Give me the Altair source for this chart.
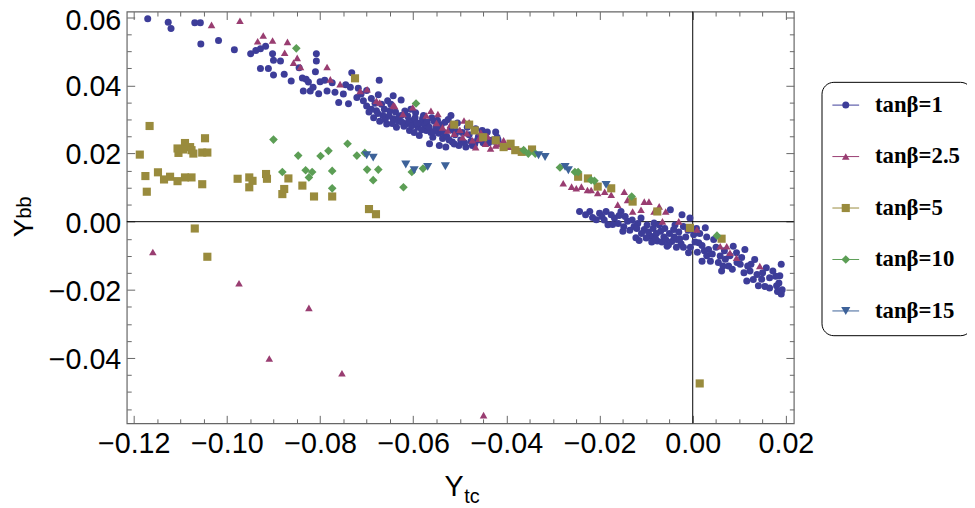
import altair as alt
import pandas as pd

# ---------------- data ----------------
series_names = ["tanβ=1", "tanβ=2.5", "tanβ=5", "tanβ=10", "tanβ=15"]

# tanβ=1 (circles)
s1_x = [-0.1170, -0.1126, -0.1120, -0.1069, -0.1057, -0.1056, -0.1018, -0.0984, -0.0949, -0.0938,
        -0.0928, -0.0917, -0.0928, -0.0911, -0.0902, -0.0900, -0.0885, -0.0900, -0.0877, -0.0862,
        -0.0845, -0.0838, -0.0830, -0.0825, -0.0836, -0.0821, -0.0808, -0.0808, -0.0810, -0.0800,
        -0.0803, -0.0785, -0.0774, -0.0760, -0.0750, -0.0732, -0.0735, -0.0721, -0.0739, -0.0707,
        -0.0673, -0.0745, -0.0768, -0.0790, -0.0815, -0.0700, -0.0712, -0.0718,
        -0.0679, -0.0665, -0.0657, -0.0650, -0.0643, -0.0636, -0.0626, -0.0615, -0.0608, -0.0601,
        -0.0590, -0.0587, -0.0580, -0.0572, -0.0565, -0.0558, -0.0551, -0.0544, -0.0537, -0.0530,
        -0.0519, -0.0516, -0.0502, -0.0487, -0.0484, -0.0466, -0.0452, -0.0441, -0.0423, -0.0420,
        -0.0473, -0.0675, -0.0643, -0.0626, -0.0668, -0.0655, -0.0690, -0.0700, -0.0695, -0.0685,
        -0.0672, -0.0660, -0.0645, -0.0632, -0.0620, -0.0612, -0.0598, -0.0605, -0.0595, -0.0585,
        -0.0575, -0.0562, -0.0555, -0.0545, -0.0540, -0.0528, -0.0525, -0.0510, -0.0505, -0.0495,
        -0.0480, -0.0460, -0.0445, -0.0430,
        -0.0690, -0.0682, -0.0676, -0.0662, -0.0652, -0.0648, -0.0638, -0.0630, -0.0624, -0.0618,
        -0.0610, -0.0603, -0.0596, -0.0592, -0.0582, -0.0578, -0.0570, -0.0566, -0.0560, -0.0556,
        -0.0548, -0.0542, -0.0535, -0.0532, -0.0523, -0.0518, -0.0512, -0.0507, -0.0498, -0.0490,
        -0.0476, -0.0468, -0.0462, -0.0450, -0.0438, -0.0426, -0.0418,
        -0.0243, -0.0221, -0.0207, -0.0200, -0.0186, -0.0182, -0.0168, -0.0154, -0.0150, -0.0140,
        -0.0126, -0.0122, -0.0111, -0.0104, -0.0090, -0.0083, -0.0076, -0.0069, -0.0055, -0.0048,
        -0.0041, -0.0034, -0.0023, -0.0020, -0.0009, -0.0006, 0.0002, 0.0013, 0.0020, 0.0027,
        0.0034, 0.0038, 0.0045, 0.0059, 0.0062, 0.0077, 0.0087, 0.0094, 0.0102, 0.0112,
        0.0116, 0.0123, 0.0133, 0.0141, 0.0148, 0.0158, 0.0172, 0.0180, 0.0187, 0.0190,
        0.0190, -0.0195, -0.0175, -0.0160, -0.0145, -0.0135, -0.0118, -0.0110, -0.0098, -0.0095,
        -0.0085, -0.0078, -0.0072, -0.0062, -0.0060, -0.0050, -0.0045, -0.0038, -0.0030, -0.0025,
        -0.0015, -0.0010, 0.0005, 0.0008, 0.0015, 0.0025, 0.0030, 0.0050, 0.0068, 0.0070,
        0.0080, 0.0105, 0.0125, 0.0138, 0.0165, 0.0178, 0.0182, 0.0130, 0.0155,
        -0.0230, -0.0215, -0.0190, -0.0172, -0.0158, -0.0148, -0.0130, -0.0120, -0.0115, -0.0100,
        -0.0088, -0.0080, -0.0066, -0.0058, -0.0052, -0.0040, -0.0035, -0.0028, -0.0020, -0.0005,
        0.0010, 0.0020, 0.0030, 0.0042, 0.0055, 0.0065, 0.0085, 0.0095, 0.0110, 0.0118,
        0.0150, 0.0165, 0.0185, 0.0192]
s1_y = [0.0596, 0.0586, 0.0567, 0.0584, 0.0584, 0.0522, 0.0532, 0.0505, 0.0493, 0.0503,
        0.0508, 0.0515, 0.0450, 0.0450, 0.0493, 0.0474, 0.0472, 0.0431, 0.0433, 0.0413,
        0.0452, 0.0422, 0.0418, 0.0410, 0.0384, 0.0384, 0.0493, 0.0472, 0.0440, 0.0411,
        0.0376, 0.0384, 0.0408, 0.0350, 0.0375, 0.0437, 0.0395, 0.0365, 0.0346, 0.0355,
        0.0415, 0.0402, 0.0380, 0.0415, 0.0395, 0.0385, 0.0375, 0.0392,
        0.0326, 0.0312, 0.0287, 0.0326, 0.0302, 0.0277, 0.0312, 0.0287, 0.0268, 0.0297,
        0.0277, 0.0253, 0.0302, 0.0268, 0.0229, 0.0248, 0.0277, 0.0224, 0.0244, 0.0219,
        0.0312, 0.0234, 0.0224, 0.0219, 0.0277, 0.0273, 0.0268, 0.0263, 0.0263, 0.0248,
        0.0224, 0.0373, 0.0370, 0.0357, 0.0345, 0.0355, 0.0362, 0.0340, 0.0322, 0.0305,
        0.0295, 0.0300, 0.0288, 0.0295, 0.0280, 0.0310, 0.0262, 0.0330, 0.0320, 0.0290,
        0.0285, 0.0262, 0.0295, 0.0260, 0.0285, 0.0250, 0.0300, 0.0255, 0.0290, 0.0262,
        0.0255, 0.0250, 0.0245, 0.0240,
        0.0330, 0.0348, 0.0318, 0.0330, 0.0310, 0.0345, 0.0322, 0.0308, 0.0292, 0.0325,
        0.0295, 0.0282, 0.0305, 0.0290, 0.0270, 0.0312, 0.0292, 0.0278, 0.0305, 0.0265,
        0.0298, 0.0272, 0.0262, 0.0292, 0.0240, 0.0270, 0.0228, 0.0265, 0.0240, 0.0232,
        0.0236, 0.0228, 0.0240, 0.0232, 0.0232, 0.0236, 0.0240,
        0.0030, 0.0030, 0.0006, 0.0025, 0.0030, -0.0009, 0.0011, 0.0030, -0.0028, 0.0001,
        -0.0014, -0.0047, 0.0011, -0.0023, -0.0043, -0.0004, -0.0057, -0.0028, -0.0072, 0.0035,
        -0.0023, -0.0052, 0.0020, -0.0014, -0.0091, 0.0011, -0.0038, -0.0062, -0.0116, -0.0018,
        -0.0082, -0.0116, -0.0052, -0.0101, -0.0145, -0.0130, -0.0072, -0.0091, -0.0125, -0.0082,
        -0.0174, -0.0145, -0.0111, -0.0188, -0.0169, -0.0135, -0.0145, -0.0188, -0.0159, -0.0125,
        -0.0212, 0.0015, 0.0020, -0.0005, 0.0015, -0.0025, -0.0005, -0.0035, -0.0010, -0.0030,
        -0.0020, -0.0035, -0.0010, -0.0045, -0.0020, -0.0035, -0.0058, -0.0010, -0.0030, -0.0065,
        -0.0045, -0.0025, -0.0060, -0.0020, -0.0035, -0.0085, -0.0045, -0.0075, -0.0085, -0.0110,
        -0.0100, -0.0105, -0.0125, -0.0155, -0.0165, -0.0160, -0.0205, -0.0170, -0.0190,
        0.0020, 0.0012, 0.0005, -0.0008, 0.0018, -0.0015, 0.0005, -0.0020, -0.0055, -0.0048,
        -0.0060, -0.0050, -0.0060, -0.0052, -0.0068, -0.0045, -0.0075, -0.0050, -0.0075, -0.0075,
        -0.0090, -0.0070, -0.0100, -0.0095, -0.0120, -0.0130, -0.0140, -0.0120, -0.0150, -0.0130,
        -0.0150, -0.0195, -0.0180, -0.0200]

# tanβ=2.5 (up triangles)
s2_x = [-0.1033, -0.0972, -0.0922, -0.0934, -0.0902, -0.0870, -0.0876, -0.0857, -0.0849, -0.0842,
        -0.0785, -0.0778, -0.0757, -0.0714, -0.0699, -0.0679, -0.0643, -0.0622, -0.0601,
        -0.0672, -0.0640, -0.0572, -0.0562, -0.0547, -0.0537, -0.0526, -0.0512, -0.0491, -0.0480,
        -0.0494, -0.0473, -0.0459, -0.0445, -0.0434, -0.0466, -0.0423, -0.0406,
        -0.0550, -0.0520, -0.0500, -0.0485, -0.0455, -0.0440, -0.0415, -0.0395,
        -0.0278, -0.0260, -0.0239, -0.0226, -0.0250, -0.0218, -0.0204, -0.0189, -0.0175, -0.0161,
        -0.0147, -0.0140, -0.0129, -0.0111, -0.0104, -0.0094, -0.0083, -0.0072, -0.0065, -0.0058,
        -0.0030, -0.0009, 0.0009, 0.0059, 0.0073, 0.0080, 0.0094, 0.0144,
        -0.1159, -0.0974, -0.0824, -0.0909, -0.0753, -0.0449]
s2_y = [0.0578, 0.0590, 0.0547, 0.0530, 0.0532, 0.0528, 0.0496, 0.0467, 0.0481, 0.0454,
        0.0454, 0.0418, 0.0404, 0.0384, 0.0389, 0.0355, 0.0341, 0.0316, 0.0336,
        0.0350, 0.0340, 0.0312, 0.0326, 0.0316, 0.0277, 0.0268, 0.0258, 0.0297, 0.0292,
        0.0248, 0.0239, 0.0244, 0.0229, 0.0215, 0.0219, 0.0224, 0.0239,
        0.0290, 0.0285, 0.0270, 0.0260, 0.0262, 0.0250, 0.0228, 0.0220,
        0.0113, 0.0103, 0.0103, 0.0093, 0.0098, 0.0093, 0.0084, 0.0088, 0.0079, 0.0050,
        0.0088, 0.0064, 0.0030, 0.0035, 0.0059, 0.0059, 0.0030, 0.0045, 0.0001, 0.0030,
        0.0001, -0.0021, -0.0023, -0.0072, -0.0072, -0.0091, -0.0106, -0.0130,
        -0.0089, -0.0181, -0.0253, -0.0402, -0.0445, -0.0568]

# tanβ=5 (squares)
s3_x = [-0.1187, -0.1166, -0.1175, -0.1172, -0.1148, -0.1135, -0.1122, -0.1106, -0.1104, -0.1106,
        -0.1090, -0.1094, -0.1079, -0.1076, -0.1072, -0.1090, -0.1076, -0.1053, -0.1047, -0.1053,
        -0.1042, -0.0977, -0.0952, -0.0945, -0.0952, -0.0916, -0.0914, -0.0881, -0.0877, -0.0868,
        -0.0838, -0.0813, -0.0774, -0.0695, -0.0680, -0.1069, -0.1042, 0.0015,
        -0.0725, -0.0512, -0.0480, -0.0468, -0.0450, -0.0423, -0.0406, -0.0391, -0.0367, -0.0345,
        -0.0381, -0.0246, -0.0225, -0.0204, -0.0175, -0.0129, -0.0076, -0.0006, 0.0062]
s3_y = [0.0197, 0.0281, 0.0134, 0.0088, 0.0145, 0.0124, 0.0132, 0.0119, 0.0202, 0.0215,
        0.0231, 0.0212, 0.0219, 0.0210, 0.0200, 0.0130, 0.0130, 0.0110, 0.0245, 0.0203,
        0.0203, 0.0126, 0.0130, 0.0120, 0.0101, 0.0140, 0.0126, 0.0081, 0.0096, 0.0127,
        0.0106, 0.0074, 0.0074, 0.0037, 0.0022, -0.0020, -0.0103, -0.0475,
        0.0421, 0.0285, 0.0285, 0.0268, 0.0248, 0.0239, 0.0219, 0.0229, 0.0205, 0.0212,
        0.0210, 0.0132, 0.0127, 0.0103, 0.0098, 0.0059, 0.0030, -0.0018, -0.0050]

# tanβ=10 (diamonds)
s4_x = [-0.0851, -0.0594, -0.0900, -0.0847, -0.0881, -0.0831, -0.0824, -0.0817, -0.0799, -0.0782,
        -0.0774, -0.0774, -0.0741, -0.0721, -0.0704, -0.0699, -0.0675, -0.0686, -0.0621, -0.0603,
        -0.0579, -0.0363, -0.0353, -0.0338, -0.0285, -0.0253, -0.0218, -0.0246, -0.0211, -0.0131,
        0.0052]
s4_y = [0.0509, 0.0347, 0.0241, 0.0194, 0.0146, 0.0151, 0.0130, 0.0146, 0.0193, 0.0208,
        0.0149, 0.0098, 0.0229, 0.0194, 0.0202, 0.0153, 0.0153, 0.0122, 0.0101, 0.0146,
        0.0156, 0.0210, 0.0200, 0.0200, 0.0159, 0.0146, 0.0122, 0.0146, 0.0120, 0.0074,
        -0.0041]

# tanβ=15 (down triangles)
s5_x = [-0.0700, -0.0686, -0.0616, -0.0598, -0.0569, -0.0531, -0.0331, -0.0317, -0.0274, -0.0267,
        -0.0186]
s5_y = [0.0195, 0.0188, 0.0168, 0.0151, 0.0161, 0.0163, 0.0195, 0.0190, 0.0161, 0.0151,
        0.0108]

zero_x = [0.0]
zero_y = [0.0]

x_ticks = [-0.12, -0.115, -0.11, -0.105, -0.10, -0.095, -0.09, -0.085, -0.08, -0.075, -0.07,
           -0.065, -0.06, -0.055, -0.05, -0.045, -0.04, -0.035, -0.03, -0.025, -0.02, -0.015,
           -0.01, -0.005, 0.0, 0.005, 0.01, 0.015, 0.02]
y_ticks = [-0.055, -0.05, -0.045, -0.04, -0.035, -0.03, -0.025, -0.02, -0.015, -0.01, -0.005,
           0.0, 0.005, 0.01, 0.015, 0.02, 0.025, 0.03, 0.035, 0.04, 0.045, 0.05, 0.055, 0.06]

# ---------------- styling ----------------
colors = ["#3d3d99", "#993d71", "#998b3d", "#5c9e55", "#3d6299"]
shapes = ["circle", "triangle-up", "square", "diamond", "triangle-down"]
sizes = [50, 85, 38, 64, 85]
LINE_SYMBOL = "M-4.27,0H4.27"

rows = []
for name, xs, ys in zip(series_names, [s1_x, s2_x, s3_x, s4_x, s5_x], [s1_y, s2_y, s3_y, s4_y, s5_y]):
    for xv, yv in zip(xs, ys):
        rows.append({"series": name, "x": xv, "y": yv})
df = pd.DataFrame(rows)

xscale = alt.Scale(domain=[-0.1215, 0.0217], nice=False, zero=False)
yscale = alt.Scale(domain=[-0.0592, 0.0617], nice=False, zero=False)

MAJOR = "abs(datum.value*50 - round(datum.value*50)) < 0.000001"
FRAME = "#666666"


def make_axis(orient, labels, values, pad=8, loff=0):
    kw = dict(orient=orient, values=values, grid=False, domain=False, offset=-8, tickSize=8,
              tickColor=FRAME, tickWidth=1, title=None,
              tickDash={"condition": {"test": MAJOR, "value": [100, 1]}, "value": [0, 3.5, 4.5, 100]})
    if labels:
        kw.update(labels=True, labelExpr=MAJOR + " ? format(datum.value, '.2f') : ''",
                  labelFont="Liberation Sans", labelFontSize=29, labelColor="black",
                  labelPadding=pad, labelOffset=loff, labelFlush=False, labelOverlap=False)
    else:
        kw.update(labels=False)
    return alt.Axis(**kw)


vrule = alt.Chart(pd.DataFrame({"x": zero_x})).mark_rule(color="black", strokeWidth=1).encode(
    x=alt.X("x:Q", scale=xscale, axis=make_axis("top", False, x_ticks)))
hrule = alt.Chart(pd.DataFrame({"y": zero_y})).mark_rule(color="black", strokeWidth=1).encode(
    y=alt.Y("y:Q", scale=yscale, axis=make_axis("right", False, y_ticks)))

leg_common = dict(title=None, orient="none", legendX=702, legendY=71, padding=12, symbolOffset=1,
                  labelOffset=18, rowPadding=28, labelFont="Liberation Serif", labelFontWeight="bold",
                  labelFontSize=23, labelColor="black", symbolSize=40)

leg_markers = alt.Legend(strokeColor="black", cornerRadius=12, symbolStrokeWidth=0, **leg_common)

y_label_offset = {"condition": {"test": "datum.value > 0.059", "value": 3}, "value": 1.5}

points = alt.Chart(df).mark_point(filled=True, opacity=1).encode(
    x=alt.X("x:Q", scale=xscale, axis=make_axis("bottom", True, x_ticks, 7)),
    y=alt.Y("y:Q", scale=yscale, axis=make_axis("left", True, y_ticks, 6, y_label_offset)),
    color=alt.Color("series:N", scale=alt.Scale(domain=series_names, range=colors), legend=leg_markers),
    shape=alt.Shape("series:N", scale=alt.Scale(domain=series_names, range=shapes), legend=leg_markers),
    size=alt.Size("series:N", scale=alt.Scale(domain=series_names, range=sizes), legend=None),
)

# thin line drawn through each legend marker (same layout, hidden labels)
line_names = [n + " " for n in series_names]
leg_lines = alt.Legend(symbolType=LINE_SYMBOL, symbolStrokeWidth=1, labelOpacity=0, **leg_common)
legend_lines = alt.Chart(df).transform_filter("false").mark_point(
    shape=LINE_SYMBOL, filled=False, size=40, strokeWidth=1, opacity=1).encode(
    stroke=alt.Stroke("series:N", scale=alt.Scale(domain=line_names, range=colors), legend=leg_lines),
)


def label(txt, x, y, size, angle=0):
    kw = dict(text=txt, font="Liberation Sans", fontSize=size, color="black", align="left",
              baseline="alphabetic")
    if angle:
        kw["angle"] = angle
    return alt.Chart(pd.DataFrame({"t": [txt]})).mark_text(**kw).encode(
        x=alt.value(x), y=alt.value(y))


titles = [
    label("Y", 321, 489, 29),
    label("tc", 341, 497, 20),
    label("Y", -95, 228, 28, 270),
    label("bb", -97, 209, 20, 270),
]

chart = alt.layer(vrule, hrule, legend_lines, points, *titles).resolve_axis(
    x="independent", y="independent").properties(
    width=674, height=416,
    padding={"left": 120, "top": 1, "right": 175, "bottom": 84},
    autosize=alt.AutoSizeParams(type="none"),
    background="white",
).configure_view(stroke=FRAME, strokeWidth=1.2)

chart.save("out.html", embed_options={"renderer": "svg", "actions": False})
